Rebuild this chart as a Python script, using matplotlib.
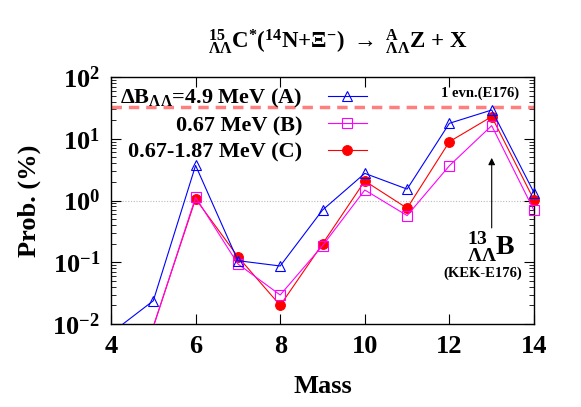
import numpy as np
import matplotlib
matplotlib.use("Agg")
import matplotlib.pyplot as plt
from matplotlib.ticker import LogLocator, NullFormatter, LogFormatterSciNotation

plt.rcParams['font.family'] = ['Liberation Serif', 'DejaVu Serif']
plt.rcParams['font.weight'] = 'bold'
plt.rcParams['mathtext.fontset'] = 'custom'
plt.rcParams['mathtext.rm'] = 'Liberation Serif:bold'
plt.rcParams['mathtext.it'] = 'Liberation Serif:bold'
plt.rcParams['mathtext.bf'] = 'Liberation Serif:bold'
plt.rcParams['mathtext.default'] = 'rm'

# Data
mass = [4, 5, 6, 7, 8, 9, 10, 11, 12, 13, 14]
prob_A = [0.0071, 0.0238, 3.7, 0.106, 0.087, 0.70, 2.75, 1.53, 17.8, 29.2, 1.34]
prob_B = [0.004, 0.0089, 1.13, 0.094, 0.0295, 0.185, 1.48, 0.57, 3.66, 16.3, 0.69]
prob_C = [0.004, 0.0091, 1.06, 0.123, 0.020, 0.198, 2.07, 0.75, 8.97, 22.8, 1.02]
label_A = r"$\Delta$B$_{\Lambda\Lambda}$=4.9 MeV (A)"
label_B = "0.67 MeV (B)"
label_C = "0.67-1.87 MeV (C)"
one_event = 33.0
x_ticks = [4, 6, 8, 10, 12, 14]
y_min, y_max = 0.01, 100

fig = plt.figure(figsize=(5.81, 4.07), dpi=100)
ax = fig.add_axes([111/581, 1-324/407, (534-111)/581, (324-77)/407])

ax.axhline(1.0, color='#bbbbbb', lw=0.8, ls=(0, (1, 1.5)), zorder=1)
ax.axhline(one_event, color='#ff7f7f', lw=2.5, ls=(0, (3, 2)), zorder=2)

series = [
    (prob_A, 'blue', '^', 'none', label_A, 5),
    (prob_B, 'magenta', 's', 'none', label_B, 4),
    (prob_C, 'red', 'o', 'red', label_C, 3),
]
handles = []
for vals, col, mk, mfc, lab, z in series:
    ax.plot(mass, vals, color=col, lw=0.8, zorder=z)
    m = np.array(mass, dtype=float)
    v = np.array(vals, dtype=float)
    sel = v >= y_min
    ax.plot(m[sel], v[sel], ls='none', marker=mk, ms=7, mfc=mfc, mec=col,
            mew=0.8, zorder=z, clip_on=False)
    h, = ax.plot([], [], color=col, lw=0.8, marker=mk, ms=7, mfc=mfc, mec=col,
                 mew=0.8, label=lab)
    handles.append(h)

ax.set_yscale('log')
ax.set_xlim(4, 14)
ax.set_ylim(y_min, y_max)
ax.set_xticks(x_ticks)
ax.set_xticklabels([str(t) for t in x_ticks])
ax.yaxis.set_major_locator(LogLocator(base=10, numticks=10))
ax.yaxis.set_minor_locator(LogLocator(base=10, subs=np.arange(2, 10), numticks=10))
ax.yaxis.set_minor_formatter(NullFormatter())
ax.yaxis.set_major_formatter(LogFormatterSciNotation())
ax.tick_params(which='both', direction='in', top=True, right=True, labelsize=19)
ax.tick_params(which='major', length=7, width=0.8, pad=8)
ax.tick_params(which='minor', length=3.5, width=0.6)
for s in ax.spines.values():
    s.set_linewidth(1.0)

ax.set_xlabel("Mass", fontsize=19, fontweight='bold', labelpad=12)
ax.set_ylabel("Prob. (%)", fontsize=19, fontweight='bold', labelpad=8)

leg = ax.legend(handles=handles, loc='upper left', bbox_to_anchor=(0.0, 0.995),
                markerfirst=False, frameon=False, fontsize=16, labelspacing=0.25,
                handlelength=1.75, handletextpad=1.15, borderaxespad=0.0)

ax.text(0.965, 0.935, "1 evn.(E176)", transform=ax.transAxes, ha='right', va='center',
        fontsize=10.5, fontweight='bold')

ax.annotate("", xy=(13, 4.9), xytext=(13, 0.36),
            arrowprops=dict(arrowstyle='-|>', color='black', lw=0.8,
                            mutation_scale=10, shrinkA=0, shrinkB=0))
ax.text(13, 0.175, r"$^{13}_{\Lambda\Lambda}$B", ha='center', va='center', fontsize=20)
ax.text(12.79, 0.066, "(KEK-E176)", ha='center', va='center', fontsize=10.5,
        fontweight='bold')

fig.text(338/581, 1-42/407,
         r"$^{15}_{\Lambda\Lambda}$C$^{*}$($^{14}$N+$\Xi^{-}$) $\rightarrow$ $^{A}_{\Lambda\Lambda}$Z + X",
         ha='center', va='center', fontsize=16.5)

fig.savefig("out.png", dpi=100)
